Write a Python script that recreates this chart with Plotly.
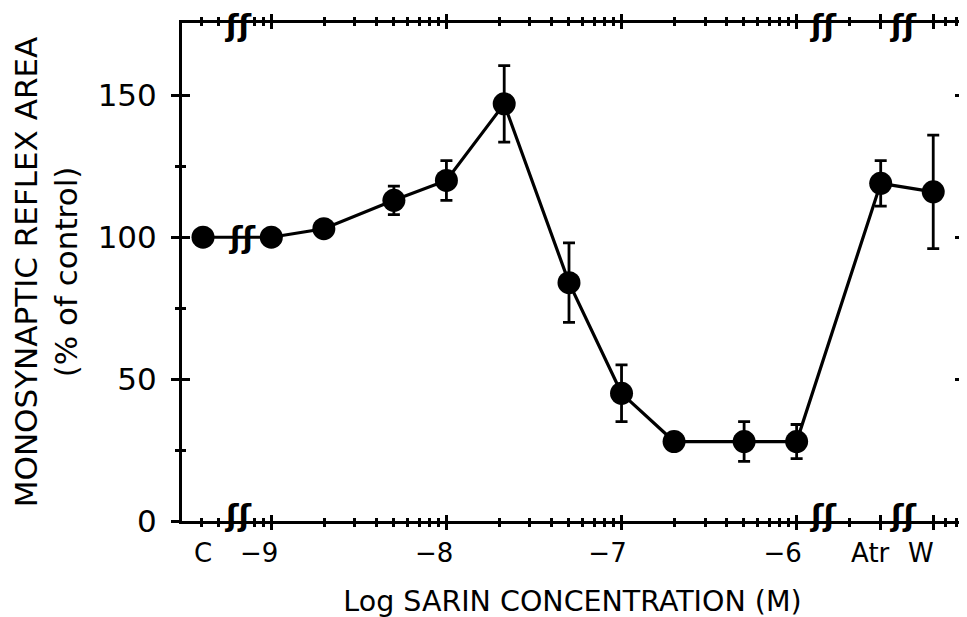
import math
import plotly.graph_objects as go

# ---------------- data ----------------
# x position in log10 molar units (C, Atr and W are placed on the same scale)
log_conc = [-9.39, -9.0, -8.7, -8.3, -8.0, -7.67, -7.3, -7.0, -6.7, -6.3, -6.0, -5.52, -5.22]
reflex_area = [100, 100, 103, 113, 120, 147, 84, 45, 28, 28, 28, 119, 116]
sem = [0, 0, 2, 5, 7, 13.5, 14, 10, 2, 7, 6, 8, 20]

tick_labels = ["C", "\u22129", "\u22128", "\u22127", "\u22126", "Atr", "W"]
label_pos = [-9.39, -9.07, -8.07, -7.08, -6.08, -5.58, -5.29]
major_x = [-9, -8, -7, -6, -5.52, -5.22]
minor_x = [math.log10(k) - 10 for k in (4, 5, 8, 9)]
for d in (-9, -8, -7):
    minor_x += [math.log10(k) + d for k in range(2, 10)]
minor_x += [math.log10(2) - 6, -5.15, -5.09]
break_x = [-9.19, -5.85, -5.39]

y_major = [0, 50, 100, 150]
y_minor = [25, 75, 125]

X_RANGE = [-9.51, -5.05]
Y_RANGE = [0, 175.5]

FONT = "DejaVu Sans"
BLACK = "black"

fig = go.Figure()
fig.add_trace(go.Scatter(
    x=log_conc, y=reflex_area, mode="lines+markers",
    line=dict(color=BLACK, width=3.2),
    marker=dict(color=BLACK, size=23, symbol="circle"),
    error_y=dict(type="data", array=sem, visible=True, color=BLACK, thickness=2.8, width=6),
    showlegend=False, hoverinfo="skip",
))

# empty traces so that every overlaid axis gets drawn
for xa, ya in [("x2", "y"), ("x3", "y"), ("x4", "y"), ("x5", "y"),
               ("x", "y2"), ("x", "y3"), ("x", "y4")]:
    fig.add_trace(go.Scatter(x=[None], y=[None], xaxis=xa, yaxis=ya, mode="markers",
                             showlegend=False, hoverinfo="skip"))

def xax(side, ticks, line, **kw):
    d = dict(range=X_RANGE, showgrid=False, zeroline=False, side=side, anchor="y",
             automargin=False,
             showline=line, linecolor=BLACK, linewidth=3,
             tickmode="array", tickvals=major_x, ticks=ticks, ticklen=6, tickwidth=2.5,
             tickcolor=BLACK, showticklabels=False,
             minor=dict(tickmode="array", tickvals=minor_x, ticks=ticks, ticklen=3,
                        tickwidth=2.5, tickcolor=BLACK))
    d.update(kw)
    return d

def yax(side, ticks, line, **kw):
    d = dict(range=Y_RANGE, showgrid=False, zeroline=False, side=side, anchor="x",
             automargin=False,
             showline=line, linecolor=BLACK, linewidth=3,
             tickmode="array", tickvals=y_major, ticks=ticks, ticklen=8, tickwidth=2.5,
             tickcolor=BLACK, showticklabels=False,
             minor=dict(tickmode="array", tickvals=y_minor, ticks=ticks, ticklen=4,
                        tickwidth=2.5, tickcolor=BLACK))
    d.update(kw)
    return d

# the page body adds an 8 px offset; margins compensate for it
fig.update_layout(
    width=967, height=617,
    margin=dict(l=174, r=12, t=15, b=104),
    paper_bgcolor="white", plot_bgcolor="white",
    font=dict(family=FONT, color=BLACK),
    xaxis=xax("bottom", "outside", True),
    xaxis2=xax("bottom", "inside", False, overlaying="x"),
    xaxis3=xax("top", "outside", True, overlaying="x"),
    xaxis4=xax("top", "inside", False, overlaying="x"),
    xaxis5=dict(range=X_RANGE, overlaying="x", side="bottom", anchor="y",
                automargin=False,
                showgrid=False, zeroline=False, showline=False, ticks="",
                tickmode="array", tickvals=label_pos, ticktext=tick_labels,
                tickfont=dict(size=26, family=FONT, color=BLACK),
                ticklabelstandoff=14,
                title=dict(text="Log SARIN CONCENTRATION (M)",
                           font=dict(size=28.5, family=FONT, color=BLACK), standoff=24)),
    yaxis=yax("left", "outside", True, showticklabels=True,
              tickfont=dict(size=31, family=FONT, color=BLACK),
              ticklabelstandoff=8,
              title=dict(text="MONOSYNAPTIC REFLEX AREA<br>(% of control)",
                         font=dict(size=31, family=FONT, color=BLACK), standoff=14)),
    yaxis2=yax("left", "inside", False, overlaying="y"),
    yaxis3=yax("right", "outside", True, overlaying="y"),
    yaxis4=yax("right", "inside", False, overlaying="y"),
)

brk = dict(text="<b>\u0283\u0283</b>", showarrow=False, yanchor="middle",
           font=dict(size=30, family=FONT, color=BLACK))
anns = []
for bx in break_x:
    anns.append(dict(brk, x=bx, xref="x", y=0, yref="paper", yshift=6))
    anns.append(dict(brk, x=bx, xref="x", y=1, yref="paper", yshift=-2))
anns.append(dict(brk, x=-9.17, xref="x", y=100, yref="y"))
fig.update_layout(annotations=anns)

fig.write_html("out.html")
